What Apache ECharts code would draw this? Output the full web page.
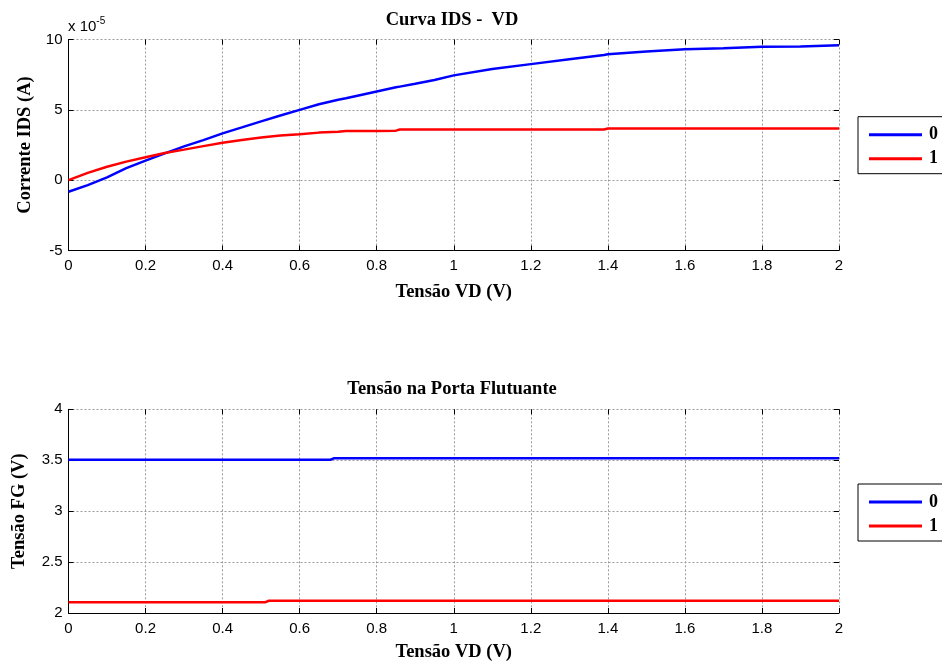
<!DOCTYPE html>
<html>
<head>
<meta charset="utf-8">
<script src="https://cdn.jsdelivr.net/npm/echarts@6/dist/echarts.min.js"></script>
<style>
  html, body { margin: 0; padding: 0; background: #fff; }
  #chart { width: 942px; height: 663px; }
</style>
</head>
<body>
<div id="chart"></div>
<script>
// Drain current IDS (in units of 1e-5 A) versus drain voltage VD (V)
const vdIds = [0, 0.05, 0.1, 0.15, 0.2, 0.25, 0.3, 0.35, 0.4, 0.45, 0.5, 0.55, 0.6, 0.65, 0.7, 0.72, 0.75, 0.8, 0.85, 0.86, 0.9, 0.95, 1.0, 1.1, 1.2, 1.3, 1.39, 1.4, 1.5, 1.6, 1.7, 1.8, 1.9, 2.0];
const idsBit0 = [-0.82, -0.35, 0.2, 0.85, 1.39, 1.9, 2.4, 2.85, 3.33, 3.75, 4.18, 4.6, 5.0, 5.4, 5.72, 5.82, 6.0, 6.3, 6.6, 6.65, 6.85, 7.12, 7.45, 7.9, 8.25, 8.6, 8.9, 8.95, 9.15, 9.3, 9.38, 9.48, 9.5, 9.6];
const idsBit1 = [0, 0.52, 0.95, 1.32, 1.63, 1.93, 2.17, 2.42, 2.66, 2.86, 3.04, 3.17, 3.27, 3.38, 3.45, 3.5, 3.5, 3.5, 3.52, 3.6, 3.6, 3.6, 3.6, 3.6, 3.6, 3.6, 3.6, 3.67, 3.67, 3.67, 3.67, 3.67, 3.67, 3.67];

// Floating-gate voltage (V) versus VD (V)
const vdFg0 = [0, 0.68, 0.69, 2.0];
const fgBit0 = [3.505, 3.505, 3.52, 3.52];
const vdFg1 = [0, 0.51, 0.52, 2.0];
const fgBit1 = [2.105, 2.105, 2.12, 2.12];

const legendNames = ['0', '1'];
const xTickStep = 0.2;

const pairs = (xs, ys) => xs.map((x, i) => [x, ys[i]]);

const sansLabel = { fontFamily: 'Liberation Sans', fontSize: 15, color: '#000' };
const serifBold = { fontFamily: 'Liberation Serif', fontWeight: 'bold', fontSize: 18.5, color: '#000' };
const gridLine = { show: true, lineStyle: { color: '#9a9a9a', type: [2, 2], width: 1 } };
const tickIn = { show: true, inside: true, length: 5, lineStyle: { color: '#000' } };

function mainX(gridIndex, gap) {
  return {
    type: 'value', gridIndex, min: 0, max: 2, interval: xTickStep,
    name: 'Tensão VD (V)', nameLocation: 'middle', nameGap: gap,
    nameTextStyle: serifBold,
    axisLine: { show: true, onZero: false, lineStyle: { color: '#000', width: 1 } },
    axisTick: tickIn, axisLabel: Object.assign({ margin: 8 }, sansLabel),
    splitLine: gridLine
  };
}
function topX(gridIndex) {
  return {
    type: 'value', gridIndex, position: 'top', min: 0, max: 2, interval: xTickStep,
    axisLine: { show: false, onZero: false }, axisTick: tickIn, axisLabel: { show: false }, splitLine: { show: false }
  };
}
function mainY(gridIndex, min, max, interval, name, gap) {
  return {
    type: 'value', gridIndex, min, max, interval,
    name, nameLocation: 'middle', nameGap: gap, nameTextStyle: serifBold,
    axisLine: { show: true, onZero: false, lineStyle: { color: '#000', width: 1 } },
    axisTick: tickIn, axisLabel: Object.assign({ margin: 6 }, sansLabel),
    splitLine: gridLine
  };
}
function rightY(gridIndex, min, max, interval) {
  return {
    type: 'value', gridIndex, position: 'right', min, max, interval,
    axisLine: { show: false, onZero: false }, axisTick: tickIn, axisLabel: { show: false }, splitLine: { show: false }
  };
}
function legendBox(top) {
  return {
    data: legendNames, orient: 'vertical', left: 858, top,
    icon: 'rect', padding: [9, 30, 6, 11], itemWidth: 53, itemHeight: 3, itemGap: 6,
    borderColor: '#000', borderWidth: 1, backgroundColor: '#fff',
    textStyle: { fontFamily: 'Liberation Serif', fontWeight: 'bold', fontSize: 18, color: '#000', padding: [0, 0, 0, 2] },
    selectedMode: false
  };
}
function lineSeries(name, color, xIdx, yIdx, data) {
  return {
    type: 'line', name, xAxisIndex: xIdx, yAxisIndex: yIdx, data,
    symbol: 'none', animation: false,
    lineStyle: { color, width: 2.5 }, itemStyle: { color }
  };
}

const chart = echarts.init(document.getElementById('chart'));
chart.setOption({
  backgroundColor: '#fff',
  animation: false,
  title: [
    { text: 'Curva IDS -  VD', left: 452, top: 10.5, padding: 0, textAlign: 'center', textStyle: serifBold },
    { text: 'Tensão na Porta Flutuante', left: 452, top: 379.5, padding: 0, textAlign: 'center', textStyle: serifBold }
  ],
  grid: [
    { left: 68.5, right: 103, top: 39.5, height: 211 },
    { left: 68.5, right: 103, top: 409.3, height: 205.7 }
  ],
  xAxis: [mainX(0, 32), topX(0), mainX(1, 30), topX(1)],
  yAxis: [
    mainY(0, -5, 10, 5, 'Corrente IDS (A)', 32),
    rightY(0, -5, 10, 5),
    mainY(1, 2, 4, 0.5, 'Tensão FG (V)', 40),
    rightY(1, 2, 4, 0.5)
  ],
  legend: [legendBox(116.7), legendBox(484)],
  series: [
    lineSeries('0', '#0000ff', 0, 0, pairs(vdIds, idsBit0)),
    lineSeries('1', '#ff0000', 0, 0, pairs(vdIds, idsBit1)),
    lineSeries('0', '#0000ff', 2, 2, pairs(vdFg0, fgBit0)),
    lineSeries('1', '#ff0000', 2, 2, pairs(vdFg1, fgBit1))
  ],
  graphic: [{
    type: 'text', left: 68, top: 16,
    style: {
      text: '{b|x 10}{s|-5}',
      rich: {
        b: { fontFamily: 'Liberation Sans', fontSize: 15, fill: '#000', verticalAlign: 'bottom' },
        s: { fontFamily: 'Liberation Sans', fontSize: 10, fill: '#000', verticalAlign: 'top', padding: [0, 0, 8, 0] }
      }
    }
  }]
});
</script>
</body>
</html>
